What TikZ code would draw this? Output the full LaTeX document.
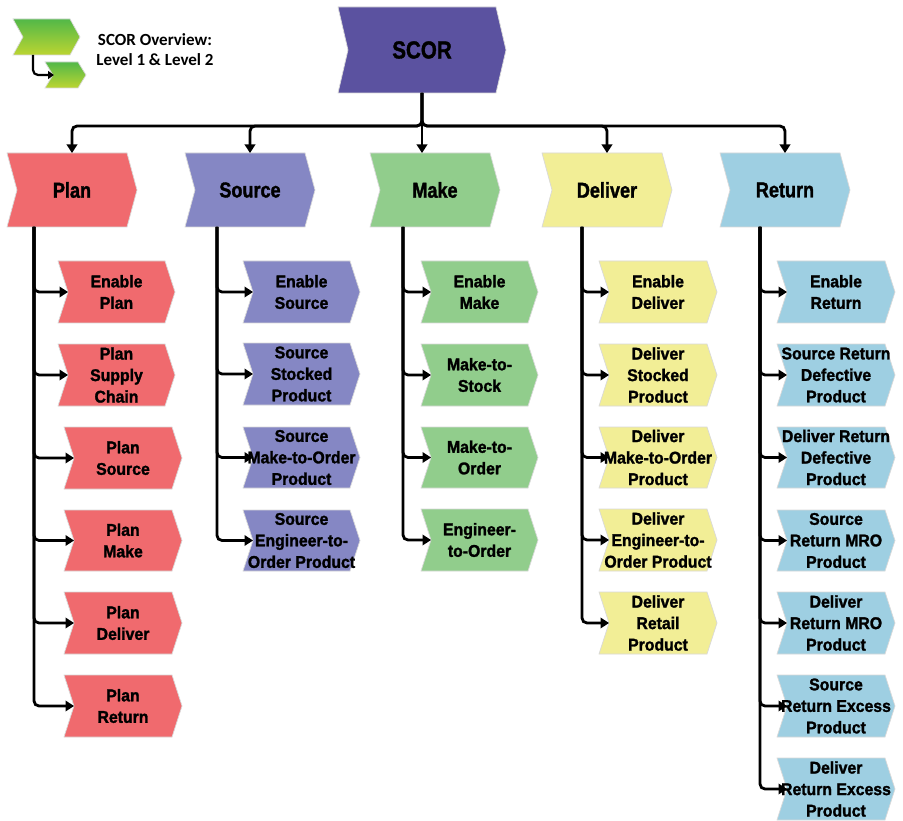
\documentclass[tikz,border=0pt]{standalone}
\usepackage{fontspec}
\usetikzlibrary{arrows.meta}
\newfontfamily\headfont{Liberation Sans Bold}[FakeStretch=0.84,FakeBold=1.5]
\newfontfamily\itemfont{Liberation Sans Bold}[FakeStretch=0.93,FakeBold=1.5]
\newfontfamily\notefont{Carlito Bold}

\definecolor{scorc}{HTML}{5B52A0}
\definecolor{planc}{HTML}{F06A6E}
\definecolor{sourcec}{HTML}{8587C4}
\definecolor{makec}{HTML}{91CD8C}
\definecolor{deliverc}{HTML}{F2EE96}
\definecolor{returnc}{HTML}{9ECFE2}
\definecolor{lgtop}{HTML}{52B848}
\definecolor{lgbot}{HTML}{BCD531}

\tikzset{
  chevline/.style={draw=black!15, line width=0.7pt},
  scortxt/.style={font=\headfont\fontsize{24.5}{28}\selectfont},
  headtxt/.style={font=\headfont\fontsize{21.5}{24}\selectfont},
  itemtxt/.style={font=\itemfont\fontsize{17}{21.5}\selectfont, align=center},
  conn/.style={line width=2.8pt, rounded corners=5pt, -{Triangle[length=8.5pt,width=10.5pt]}},
}

% chevron: name, left, top, right, bottom, fill colour, text style, text
\newcommand\chev[8]{%
  \path[chevline, fill=#6] (#2,#3) -- ({#4-10},#3) -- (#4,{(#3+#5)/2})
    -- ({#4-10},#5) -- (#2,#5) -- ({#2+10},{(#3+#5)/2}) -- cycle;
  \node[#7, inner sep=0pt, outer sep=0pt,
        minimum width={(#4-#2)*1pt}, minimum height={(#5-#3)*1pt}]
    (#1) at ({(#2+#4)/2},{(#3+#5)/2}) {#8};
  \coordinate (#1-in) at ({#2+10},{(#3+#5)/2});
}

\begin{document}
\begin{tikzpicture}[x=1pt,y=-1pt]
\fill[white] (0,0) rectangle (903,821);
\useasboundingbox (0,0) rectangle (903,821);

% legend
\path[chevline, top color=lgtop, bottom color=lgbot]
  (13,19) -- (70,19) -- (80,37) -- (70,55) -- (13,55) -- (23,37) -- cycle;
\path[chevline, top color=lgtop, bottom color=lgbot]
  (45,62) -- (78,62) -- (86,75) -- (78,88) -- (45,88) -- (53,75) -- cycle;
\coordinate (lgout) at (33,55);
\coordinate (lgin) at (54,75);
\draw[line width=2.2pt, rounded corners=5pt, -{Triangle[length=6pt,width=8pt]}] (lgout) |- (lgin);
\node[font=\notefont\fontsize{17}{20}\selectfont, align=center] (legend) at (155,50)
  {SCOR Overview:\\Level 1 \& Level 2};

% level 1
\chev{scor}{338}{7}{506}{93}{scorc}{scortxt}{SCOR}
\chev{plan}{7}{153}{137}{227}{planc}{headtxt}{Plan}
\chev{source}{185}{153}{315}{227}{sourcec}{headtxt}{Source}
\chev{make}{370}{153}{500}{227}{makec}{headtxt}{Make}
\chev{deliver}{542}{153}{672}{227}{deliverc}{headtxt}{Deliver}
\chev{return}{720}{153}{850}{227}{returnc}{headtxt}{Return}

\coordinate (hub) at (422,126);
\draw[conn] (scor.south) -- (hub) -| (plan.north);
\draw[conn] (scor.south) -- (hub) -| (source.north);
\draw[conn] (scor.south) -- (scor.south |- make.north);
\draw[conn] (scor.south) -- (hub) -| (deliver.north);
\draw[conn] (scor.south) -- (hub) -| (return.north);

% plan
\chev{p1}{58}{261}{175}{323}{planc}{itemtxt}{Enable\\Plan}
\chev{p2}{58}{344}{175}{406}{planc}{itemtxt}{Plan\\Supply\\Chain}
\chev{p3}{64}{427}{182}{489}{planc}{itemtxt}{Plan\\Source}
\chev{p4}{64}{510}{182}{571}{planc}{itemtxt}{Plan\\Make}
\chev{p5}{64}{592}{182}{654}{planc}{itemtxt}{Plan\\Deliver}
\chev{p6}{64}{675}{182}{737}{planc}{itemtxt}{Plan\\Return}

% source
\chev{s1}{243}{261}{360}{323}{sourcec}{itemtxt}{Enable\\Source}
\chev{s2}{243}{343}{360}{405}{sourcec}{itemtxt}{Source\\Stocked\\Product}
\chev{s3}{243}{427}{360}{488}{sourcec}{itemtxt}{Source\\Make-to-Order\\Product}
\chev{s4}{243}{510}{360}{571}{sourcec}{itemtxt}{Source\\Engineer-to-\\Order Product}

% make
\chev{m1}{421}{261}{538}{323}{makec}{itemtxt}{Enable\\Make}
\chev{m2}{421}{344}{538}{406}{makec}{itemtxt}{Make-to-\\Stock}
\chev{m3}{421}{427}{538}{488}{makec}{itemtxt}{Make-to-\\Order}
\chev{m4}{421}{509}{538}{571}{makec}{itemtxt}{Engineer-\\to-Order}

% deliver
\chev{d1}{599}{261}{717}{323}{deliverc}{itemtxt}{Enable\\Deliver}
\chev{d2}{599}{344}{717}{406}{deliverc}{itemtxt}{Deliver\\Stocked\\Product}
\chev{d3}{599}{427}{717}{488}{deliverc}{itemtxt}{Deliver\\Make-to-Order\\Product}
\chev{d4}{599}{509}{717}{571}{deliverc}{itemtxt}{Deliver\\Engineer-to-\\Order Product}
\chev{d5}{599}{592}{717}{654}{deliverc}{itemtxt}{Deliver\\Retail\\Product}

% return
\chev{r1}{777}{261}{895}{323}{returnc}{itemtxt}{Enable\\Return}
\chev{r2}{777}{344}{895}{406}{returnc}{itemtxt}{Source Return\\Defective\\Product}
\chev{r3}{777}{427}{895}{488}{returnc}{itemtxt}{Deliver Return\\Defective\\Product}
\chev{r4}{777}{510}{895}{571}{returnc}{itemtxt}{Source\\Return MRO\\Product}
\chev{r5}{777}{592}{895}{654}{returnc}{itemtxt}{Deliver\\Return MRO\\Product}
\chev{r6}{777}{675}{895}{737}{returnc}{itemtxt}{Source\\Return Excess\\Product}
\chev{r7}{777}{758}{895}{820}{returnc}{itemtxt}{Deliver\\Return Excess\\Product}

% level 2 connectors
\coordinate (planv) at (34,227);
\coordinate (sourcev) at (217,227);
\coordinate (makev) at (403,227);
\coordinate (deliverv) at (582,227);
\coordinate (returnv) at (760,227);
\foreach \c in {p1,p2,p3,p4,p5,p6} \draw[conn] (planv) |- (\c-in);
\foreach \c in {s1,s2,s3,s4} \draw[conn] (sourcev) |- (\c-in);
\foreach \c in {m1,m2,m3,m4} \draw[conn] (makev) |- (\c-in);
\foreach \c in {d1,d2,d3,d4,d5} \draw[conn] (deliverv) |- (\c-in);
\foreach \c in {r1,r2,r3,r4,r5,r6,r7} \draw[conn] (returnv) |- (\c-in);
\end{tikzpicture}
\end{document}
